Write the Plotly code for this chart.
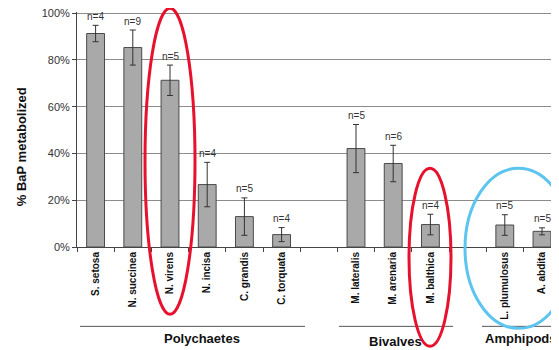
import plotly.graph_objects as go

categories = ["S. setosa", "N. succinea", "N. virens", "N. incisa", "C. grandis", "C. torquata", " ",
              "M. lateralis", "M. arenaria", "M. balthica", "  ", "L. plumulosus", "A. abdita"]
values = [91.3, 85.3, 71.3, 26.7, 13.0, 5.3, None, 42.1, 35.7, 9.6, None, 9.4, 6.7]
errors = [3.5, 7.5, 6.5, 9.5, 8.0, 3.0, None, 10.3, 7.8, 4.4, None, 4.4, 1.5]
n_labels = ["n=4", "n=9", "n=5", "n=4", "n=5", "n=4", "", "n=5", "n=6", "n=4", "", "n=5", "n=5"]
groups = ["Polychaetes", "Bivalves", "Amphipods"]
y_ticks = [0, 20, 40, 60, 80, 100]
y_title = "% BaP metabolized"

OFF = 8  # page body margin
W, H = 559 - OFF, 350 - OFF
Y_TOP = 100.5
pp = (246.7 - 13) / 100.0  # pixels per percent
L, R = 77 - OFF, 559 - OFF
B = 246.7 - OFF
T = B - pp * Y_TOP
slot = 37.2
x_max = (R - L) / slot - 0.5

def px(x):
    return (x - OFF - L) / (R - L)

def py(y):
    return (B - (y - OFF)) / (B - T)

fig = go.Figure()
fig.add_trace(go.Bar(
    x=categories, y=values,
    marker=dict(color="#a9a9a9", line=dict(color="#4a4a4a", width=1)),
    width=0.48,
    error_y=dict(type="data", array=errors, visible=True, color="#333333", thickness=1, width=3),
    showlegend=False,
))

annotations = []
for c, v, e, n in zip(categories, values, errors, n_labels):
    if v is None:
        continue
    annotations.append(dict(x=c, y=v + e, text=n, showarrow=False, yshift=9,
                            font=dict(size=10, color="#333333", family="Liberation Sans, Arial")))

annotations.append(dict(xref="paper", yref="paper", x=px(21), y=py(147), text="<b>%s</b>" % y_title,
                        textangle=-90, showarrow=False, xanchor="center", yanchor="middle",
                        font=dict(size=13, color="#111111", family="Liberation Sans, Arial")))

group_pos = [(202, 338, 80, 305), (395, 341, 339, 453), (521, 338, 482, 575)]
shapes = []
for g, (gx, gy, x0, x1) in zip(groups, group_pos):
    annotations.append(dict(xref="paper", yref="paper", x=px(gx), y=py(gy), text="<b>%s</b>" % g,
                            showarrow=False, font=dict(size=13, color="#111111", family="Liberation Sans, Arial"),
                            xanchor="center", yanchor="middle"))
    shapes.append(dict(type="line", xref="paper", yref="paper", x0=px(x0), x1=px(x1), y0=py(326), y1=py(326),
                       line=dict(color="#555555", width=1)))

# highlight ellipses
ellipses = [((145, 8, 195, 314), "#e8112d"), ((409, 168, 451, 346), "#e8112d"), ((465, 168, 572, 328), "#5bc4ef")]
for (x0, y0, x1, y1), col in ellipses:
    shapes.append(dict(type="circle", xref="paper", yref="paper", x0=px(x0), x1=px(x1), y0=py(y1), y1=py(y0),
                       line=dict(color=col, width=3)))

fig.update_layout(
    width=W, height=H,
    margin=dict(l=L, r=W - R, t=T, b=H - B),
    paper_bgcolor="white", plot_bgcolor="white",
    font=dict(family="Liberation Sans, Arial", color="#333333"),
    annotations=annotations, shapes=shapes,
    bargap=0.5,
)
fig.update_xaxes(
    type="category", range=[-0.5, x_max], tickson="boundaries", ticks="outside", ticklen=4,
    tickcolor="#444444", tickangle=-90, showline=True, linecolor="#444444", linewidth=1,
    tickfont=dict(size=10, color="#111111", family="Liberation Sans, Arial", weight="bold"),
    showgrid=False,
)
fig.update_yaxes(
    range=[0, Y_TOP], tickvals=y_ticks, ticktext=["%d%%" % t for t in y_ticks], ticks="outside", ticklen=4,
    tickcolor="#444444", showline=True, linecolor="#444444", linewidth=1,
    showgrid=True, gridcolor="#8c8c8c", gridwidth=1, ticklabeloverflow="allow",
    tickfont=dict(size=11, color="#333333"),
    zeroline=False,
)
fig.write_html("out.html")
